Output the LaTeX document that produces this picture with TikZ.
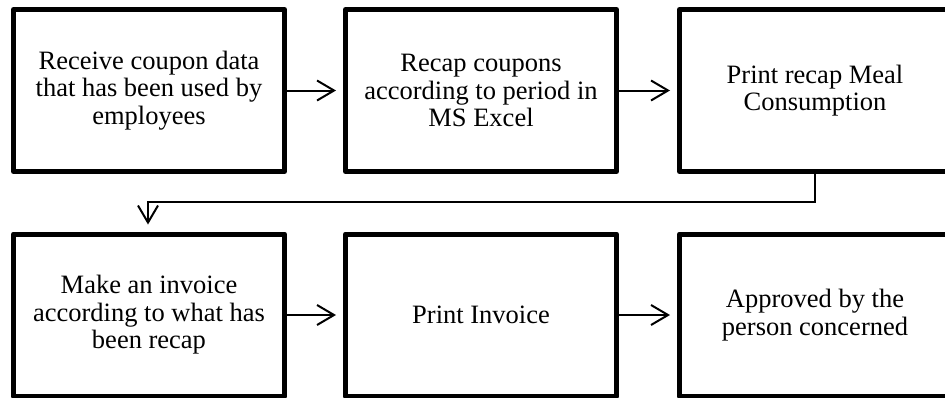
\documentclass[tikz,border=0pt]{standalone}
\usepackage{fontspec}
\setmainfont{Liberation Serif}
\usetikzlibrary{arrows.meta}
\begin{document}
\begin{tikzpicture}[x=1pt,y=-1pt,
  stepbox/.style={draw, line width=5pt, line join=round, minimum width=271pt,
    minimum height=162pt, align=center, inner sep=0pt,
    font=\fontsize{26.5}{27.5}\selectfont},
  flow/.style={line width=2pt, -{Straight Barb[length=17pt,width=20pt,line width=2pt]},
    shorten >=7pt}]
\useasboundingbox (0,0) rectangle (945,397);
% top row
\node[stepbox] (a) at (149,90.5) {Receive coupon data\\that has been used by\\employees};
\node[stepbox] (b) at (481,90.5) {Recap coupons\\according to period in\\MS Excel};
\node[stepbox] (c) at (815,90.5) {Print recap Meal\\Consumption};
% bottom row
\node[stepbox] (d) at (149,315) {Make an invoice\\according to what has\\been recap};
\node[stepbox] (e) at (481,315) {Print Invoice};
\node[stepbox] (f) at (815,315) {Approved by the\\person concerned};
% connectors
\draw[flow] (a) -- (b);
\draw[flow] (b) -- (c);
\draw[flow] (c.south) -- ++(0,28) -| (d.north -| 148,0);
\draw[flow] (d) -- (e);
\draw[flow] (e) -- (f);
\end{tikzpicture}
\end{document}
